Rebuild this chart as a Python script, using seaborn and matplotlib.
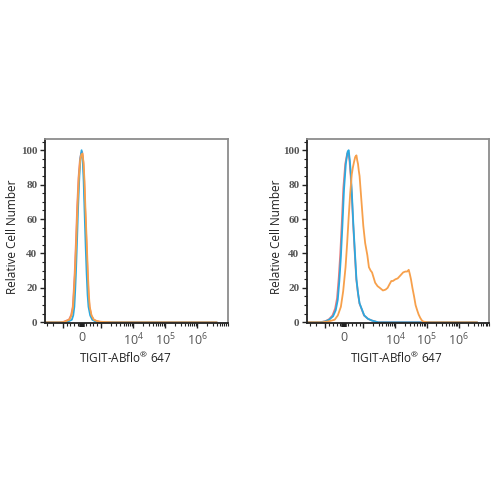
import numpy as np
import pandas as pd
import matplotlib
matplotlib.use("Agg")
import matplotlib.pyplot as plt
import seaborn as sns

# ---------------- data (fluorescence value, relative cell number) ----------------
# Left panel
left_red_x = [-3600, -1300, -950, -670, -560, -475, -425, -375, -305, -245, -175, -105, -45, 15, 75, 120, 165, 230, 295, 345, 395, 490, 610, 770, 940, 2200, 1e5, 4e6]
left_red_y = [0, 0, 0.3, 1.6, 4.2, 9, 18, 28.5, 48, 67, 84, 94, 98, 99, 93, 82, 67, 48, 28.5, 16, 9, 4, 1.5, 0.7, 0.3, 0, 0, 0]

left_blue_x = [-3600, -1500, -1019, -700, -523, -450, -392, -350, -310, -250, -196, -130, -70, -16, 40, 90, 131, 190, 245, 295, 343, 430, 539, 700, 948, 1e5, 4e6]
left_blue_y = [0, 0, 0, 0.5, 1.5, 4, 9, 18, 28.5, 48, 67, 85, 96, 100, 95, 82, 67, 46, 28.5, 16, 9, 4, 1.5, 0.5, 0, 0, 0]

left_orange_x = [-3600, -1276, -931, -654, -540, -458, -410, -359, -290, -229, -160, -90, -30, 33, 90, 135, 180, 245, 310, 360, 408, 500, 621, 780, 948, 2296, 1e5, 4e6]
left_orange_y = [0, 0, 0.2, 1.5, 4, 9, 18, 28.5, 48, 67, 84, 94, 97.5, 98, 92, 82, 67, 48, 28.5, 16, 9, 4, 1.5, 0.7, 0.3, 0, 0, 0]

# Right panel
right_red_x = [-3700, -1500, -1000, -800, -620, -480, -380, -290, -210, -130, -50, 50, 150, 215, 280, 335, 400, 465, 550, 630, 715, 795, 1050, 1400, 1875, 2944, 1e5, 3.8e6]
right_red_y = [0, 0, 0.6, 1.8, 4, 8, 14, 26, 40, 58, 78, 92, 98, 99, 93, 85, 72, 57, 40, 25, 17, 11, 4, 2, 1, 0, 0, 0]

right_blue_x = [-3700, -1500, -1000, -800, -588, -450, -343, -260, -180, -100, -16, 80, 170, 229, 290, 343, 410, 474, 560, 637, 720, 801, 1065, 1400, 1875, 2944, 1e5, 3.8e6]
right_blue_y = [0, 0, 0.5, 1.5, 3.5, 7, 13, 24, 38, 56, 77, 92, 99, 100, 94, 86, 72, 57, 40, 25, 17, 11, 4, 2, 1, 0, 0, 0]

right_orange_x = [-3700, -1248, -800, -507, -340, -180, -60, 65, 150, 229, 310, 392, 450, 507, 570, 637, 680, 719, 760, 801, 882, 997, 1140, 1334, 1496, 1700, 1875, 2100, 2350, 2800, 3296, 4130, 5000, 5794, 6600, 7590, 8500, 10190, 12000, 14290, 16000, 17900, 21000, 24000, 26750, 29000, 31500, 35000, 39500, 44000, 49400, 55000, 62000, 70000, 77600, 109000, 3.8e6]
right_orange_y = [0, 0, 0.6, 1.5, 4, 9, 18, 32, 46, 61, 75, 86, 90, 93, 96, 97, 94, 92, 88, 85, 73, 56, 46, 39, 32, 30, 29, 26, 23, 21, 20, 18.5, 19, 20, 22, 24, 24, 25, 25.5, 27, 28, 29, 29.5, 29.5, 30.5, 28, 25, 20, 15, 10, 7, 4.5, 2.5, 1, 0.4, 0, 0]

samples = ["red", "blue", "orange"]
palette = {"red": "#e8787a", "blue": "#2aa9e0", "orange": "#f7a04b"}

x_tick_values = [-1000, 0, 1000, 1e4, 1e5, 1e6]
x_tick_labels = ["", "0", "", r"$\mathregular{10^{4}}$", r"$\mathregular{10^{5}}$", r"$\mathregular{10^{6}}$"]
y_tick_values = [0, 20, 40, 60, 80, 100]
x_label = "TIGIT-ABflo$^{\\mathsf{\u00ae}}$ 647"
y_label = "Relative Cell Number"


def make_df(xs, ys):
    frames = []
    for s, x, y in zip(samples, xs, ys):
        frames.append(pd.DataFrame({"x": x, "y": y, "sample": s}))
    return pd.concat(frames, ignore_index=True)


df_left = make_df([left_red_x, left_blue_x, left_orange_x], [left_red_y, left_blue_y, left_orange_y])
df_right = make_df([right_red_x, right_blue_x, right_orange_x], [right_red_y, right_blue_y, right_orange_y])

sns.set_theme(style="white")
plt.rcParams["font.family"] = ["Open Sans", "DejaVu Sans"]
plt.rcParams["mathtext.fontset"] = "custom"
plt.rcParams["mathtext.rm"] = "Liberation Serif"
plt.rcParams["mathtext.sf"] = "Open Sans"
plt.rcParams["mathtext.default"] = "regular"

fig = plt.figure(figsize=(5, 5), dpi=100)
ax_l = fig.add_axes([0.09, 0.354, 0.366, 0.368])
ax_r = fig.add_axes([0.614, 0.354, 0.364, 0.368])

minor_x = ([-3000, -2000] + list(np.arange(-800, 1000, 200)) +
           [m * 10 ** e for e in range(3, 7) for m in range(2, 10)])
minor_x = [v for v in minor_x if v not in (0,)]

panels = [
    (ax_l, df_left, (-3550, 4.2e6), (0.437, -0.19), (-0.175, 0.47)),
    (ax_r, df_right, (-3750, 3.8e6), (0.489, -0.19), (-0.166, 0.47)),
]

for ax, df, xlim, xlab_pos, ylab_pos in panels:
    ax.set_xscale("symlog", linthresh=1000, linscale=0.54)
    sns.lineplot(data=df, x="x", y="y", hue="sample", palette=palette,
                 hue_order=samples, sort=False, estimator=None, lw=1.3,
                 legend=False, ax=ax)
    ax.set_xlim(*xlim)
    ax.set_ylim(-0.4, 106.5)
    ax.set_xticks(x_tick_values)
    ax.set_xticklabels(x_tick_labels)
    ax.set_xticks(minor_x, minor=True)
    ax.set_yticks(y_tick_values)
    ax.set_yticks(np.arange(0, 106, 5), minor=True)
    ax.set_yticklabels([str(v) for v in y_tick_values])
    for lab in ax.get_yticklabels():
        lab.set_fontfamily("Liberation Serif")
        lab.set_fontweight("bold")
    ax.tick_params(axis="both", which="major", direction="out", length=3.5, width=1.0,
                   color="#222222", labelsize=8, labelcolor="#555555", pad=2,
                   bottom=True, left=True)
    ax.tick_params(axis="both", which="minor", direction="out", length=2, width=0.8,
                   color="#222222", bottom=True, left=True)
    ax.tick_params(axis="x", which="major", labelsize=9, pad=2.5)
    # thick marker at zero
    t0 = ax.xaxis.get_major_ticks()[1]
    t0.tick1line.set_markeredgewidth(4)
    t0.tick1line.set_markersize(3)
    for side in ["top", "right"]:
        ax.spines[side].set_color("#8c8c8c")
        ax.spines[side].set_linewidth(1.3)
    for side in ["left", "bottom"]:
        ax.spines[side].set_color("#222222")
        ax.spines[side].set_linewidth(1.3)
    ax.set_xlabel(x_label, fontsize=8.5, color="#222222")
    ax.set_ylabel(y_label, fontsize=8.5, color="#222222")
    ax.xaxis.set_label_coords(*xlab_pos)
    ax.xaxis.label.set_verticalalignment("center")
    ax.yaxis.set_label_coords(*ylab_pos)
    ax.yaxis.label.set_verticalalignment("center")

fig.savefig("out.png", dpi=100, facecolor="white")
